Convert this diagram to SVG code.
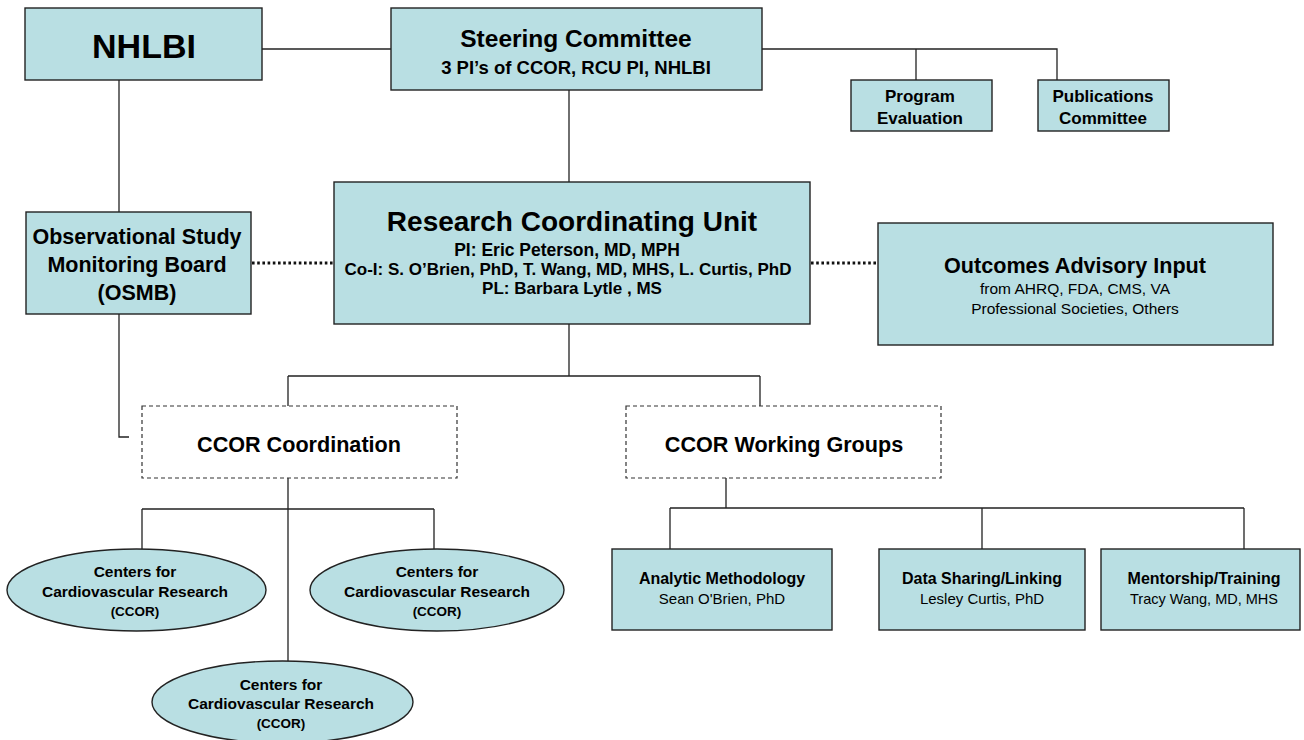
<svg xmlns="http://www.w3.org/2000/svg" width="1304" height="740" viewBox="0 0 1304 740">
<style>
.box{fill:#B9DFE3;stroke:#222;stroke-width:1.4}
.dbox{fill:#fff;stroke:#333;stroke-width:1.2;stroke-dasharray:4 3}
.ln{fill:none;stroke:#222;stroke-width:1.3}
.dot{fill:none;stroke:#111;stroke-width:3;stroke-dasharray:2.6 2.6}
text{font-family:"Liberation Sans",Arial,Helvetica,sans-serif;fill:#000;text-anchor:middle}
.b{font-weight:bold}
</style>
<rect width="1304" height="740" fill="#fff"/>
<g id="connectors">
<path class="ln" d="M262,49 H391"/>
<path class="ln" d="M762,49 H1057 V80 M916,49 V80"/>
<path class="ln" d="M569,90 V182"/>
<path class="ln" d="M119,80 V212"/>
<path class="ln" d="M119,314 V437 H129"/>
<path class="dot" d="M252,263 H334"/>
<path class="dot" d="M811,263 H878"/>
<path class="ln" d="M569,324 V376 M288,376 H760 M288,376 V406 M760,376 V406"/>
<path class="ln" d="M288,478 V661 M142,509 H434 M142,509 V549 M434,509 V549"/>
<path class="ln" d="M726,478 V508 M670,508 H1244 M670,508 V549 M982,508 V549 M1244,508 V549"/>
</g>
<g id="nhlbi">
<rect class="box" x="25" y="8" width="237" height="72"/>
<text class="b" x="144" y="58" font-size="34">NHLBI</text>
</g>
<g id="steering">
<rect class="box" x="391" y="8" width="371" height="82"/>
<text class="b" x="576" y="47" font-size="24.5">Steering Committee</text>
<text class="b" x="576" y="74" font-size="18.5">3 PI’s of CCOR, RCU PI, NHLBI</text>
</g>
<g id="program-evaluation">
<rect class="box" x="851" y="80" width="141" height="51"/>
<text class="b" x="920" y="102" font-size="17">Program</text>
<text class="b" x="920" y="124" font-size="17">Evaluation</text>
</g>
<g id="publications">
<rect class="box" x="1038" y="80" width="131" height="51"/>
<text class="b" x="1103" y="102" font-size="17">Publications</text>
<text class="b" x="1103" y="124" font-size="17">Committee</text>
</g>
<g id="osmb">
<rect class="box" x="26" y="212" width="225" height="102"/>
<text class="b" x="137" y="244" font-size="21.5">Observational Study</text>
<text class="b" x="137" y="272" font-size="21.5">Monitoring Board</text>
<text class="b" x="137" y="300" font-size="21.5">(OSMB)</text>
</g>
<g id="rcu">
<rect class="box" x="334" y="182" width="476" height="142"/>
<text class="b" x="572" y="231" font-size="28">Research Coordinating Unit</text>
<text class="b" x="567" y="256" font-size="17.5">PI: Eric Peterson, MD, MPH</text>
<text class="b" x="568" y="275" font-size="17">Co-I: S. O’Brien, PhD, T. Wang, MD, MHS, L. Curtis, PhD</text>
<text class="b" x="572" y="294" font-size="17">PL: Barbara Lytle , MS</text>
</g>
<g id="outcomes">
<rect class="box" x="878" y="223" width="395" height="122"/>
<text class="b" x="1075" y="273" font-size="21.6">Outcomes Advisory Input</text>
<text x="1075" y="294" font-size="15.5">from AHRQ, FDA, CMS, VA</text>
<text x="1075" y="314" font-size="15.5">Professional Societies, Others</text>
</g>
<g id="ccor-coordination">
<rect class="dbox" x="142" y="406" width="315" height="72"/>
<text class="b" x="299" y="452" font-size="21.6">CCOR Coordination</text>
</g>
<g id="ccor-working-groups">
<rect class="dbox" x="626" y="406" width="315" height="72"/>
<text class="b" x="784" y="452" font-size="21.6">CCOR Working Groups</text>
</g>
<g id="ccor-1">
<ellipse class="box" cx="136.5" cy="590" rx="129.5" ry="41"/>
<text class="b" x="135" y="577" font-size="15.5">Centers for</text>
<text class="b" x="135" y="597" font-size="15.5">Cardiovascular Research</text>
<text class="b" x="135" y="616" font-size="13.5">(CCOR)</text>
</g>
<g id="ccor-2">
<ellipse class="box" cx="437" cy="590" rx="127" ry="41"/>
<text class="b" x="437" y="577" font-size="15.5">Centers for</text>
<text class="b" x="437" y="597" font-size="15.5">Cardiovascular Research</text>
<text class="b" x="437" y="616" font-size="13.5">(CCOR)</text>
</g>
<g id="ccor-3">
<ellipse class="box" cx="282.5" cy="702" rx="130.5" ry="41"/>
<text class="b" x="281" y="690" font-size="15.5">Centers for</text>
<text class="b" x="281" y="709" font-size="15.5">Cardiovascular Research</text>
<text class="b" x="281" y="728" font-size="13.5">(CCOR)</text>
</g>
<g id="analytic">
<rect class="box" x="612" y="549" width="220" height="81"/>
<text class="b" x="722" y="584" font-size="16">Analytic Methodology</text>
<text x="722" y="604" font-size="15">Sean O'Brien, PhD</text>
</g>
<g id="data-sharing">
<rect class="box" x="879" y="549" width="206" height="81"/>
<text class="b" x="982" y="584" font-size="16">Data Sharing/Linking</text>
<text x="982" y="604" font-size="15">Lesley Curtis, PhD</text>
</g>
<g id="mentorship">
<rect class="box" x="1101" y="549" width="199" height="81"/>
<text class="b" x="1204" y="584" font-size="16">Mentorship/Training</text>
<text x="1204" y="604" font-size="14.5">Tracy Wang, MD, MHS</text>
</g>
</svg>
